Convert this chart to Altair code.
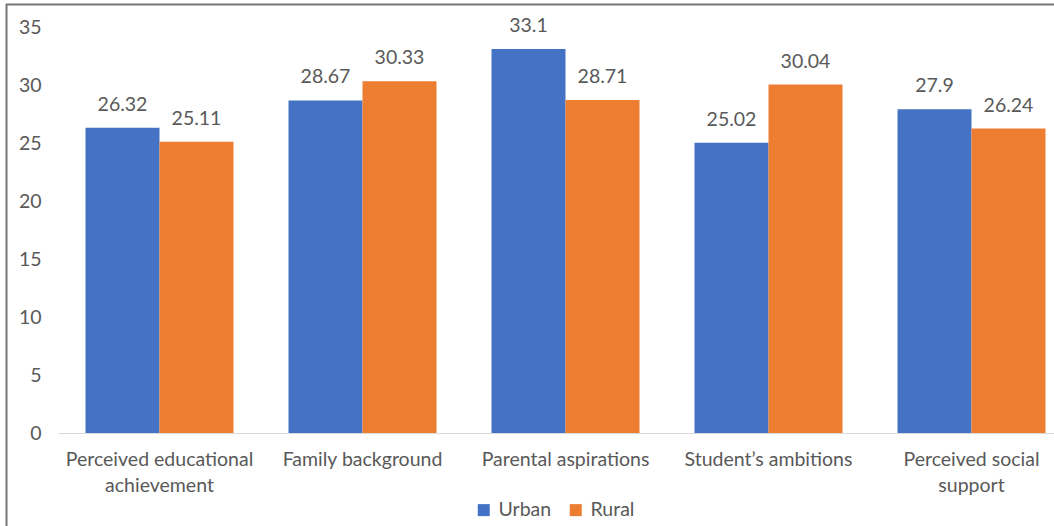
import altair as alt
import pandas as pd

categories = ["Perceived educational|achievement", "Family background",
              "Parental aspirations", "Student\u2019s ambitions",
              "Perceived social|support"]
urban = [26.32, 28.67, 33.1, 25.02, 27.9]
rural = [25.11, 30.33, 28.71, 30.04, 26.24]
series = ["Urban", "Rural"]
colors = ["#4472C4", "#ED7D31"]

rows = []
for c, u, r in zip(categories, urban, rural):
    rows.append({"cat": c, "series": "Urban", "value": u})
    rows.append({"cat": c, "series": "Rural", "value": r})
df = pd.DataFrame(rows)

FONT = "Lato"
TXT = "#595959"
FS = 19.5

xscale = alt.Scale(domain=categories, range=[0, 1015], paddingInner=0.271, paddingOuter=0.1355)
base = alt.Chart(df).encode(
    x=alt.X("cat:N", sort=categories, scale=xscale, title=None,
            axis=alt.Axis(labelAngle=0, labelExpr="split(datum.label, '|')",
                          labelLineHeight=26, labelFontSize=FS, labelColor=TXT,
                          labelFont=FONT, labelPadding=17, ticks=False, labelLimit=400,
                          domainColor="#D9D9D9", domainWidth=1.2, labelBaseline="top")),
    xOffset=alt.XOffset("series:N", sort=series, scale=alt.Scale(paddingInner=0, paddingOuter=0)),
)

bars = base.mark_bar().encode(
    y=alt.Y("value:Q", scale=alt.Scale(domain=[0, 35], nice=False), title=None,
            axis=alt.Axis(values=[0, 5, 10, 15, 20, 25, 30, 35], grid=False, domain=False,
                          ticks=False, labelFontSize=FS, labelColor=TXT, labelFont=FONT,
                          labelPadding=17)),
    color=alt.Color("series:N", sort=series, scale=alt.Scale(domain=series, range=colors),
                    legend=alt.Legend(title=None, orient="none", direction="horizontal",
                                      legendX=416, legendY=473, symbolType="square",
                                      symbolSize=144, symbolStrokeWidth=0,
                                      labelFontSize=FS, labelColor=TXT, labelFont=FONT,
                                      columnPadding=14, labelOffset=5)),
)

labels = base.mark_text(baseline="bottom", dy=-13, fontSize=FS, color=TXT, font=FONT).encode(
    y=alt.Y("value:Q"),
    text=alt.Text("value:Q"),
)

frame_df = pd.DataFrame({"a": [0]})
top_border = alt.Chart(frame_df).mark_rule(color="#767676", strokeWidth=2).encode(
    x=alt.value(-52), x2=alt.value(1000), y=alt.value(-22.5))
left_border = alt.Chart(frame_df).mark_rule(color="#767676", strokeWidth=2).encode(
    x=alt.value(-51.5), y=alt.value(-23), y2=alt.value(500))

chart = alt.layer(bars, labels, top_border, left_border).properties(
    width=996, height=406,
    autosize=alt.AutoSizeParams(type="none"),
    padding={"left": 58, "top": 27, "right": 0, "bottom": 93},
    background="white",
).configure_view(stroke=None)

chart.save("out.html", embed_options={"renderer": "svg", "actions": False})
